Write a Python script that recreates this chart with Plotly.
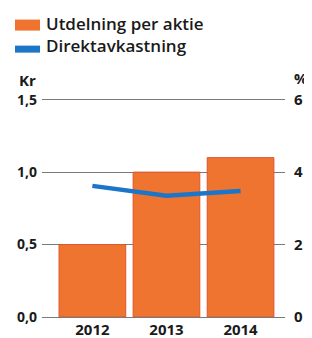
import plotly.graph_objects as go

years = ["2012", "2013", "2014"]
dividend_kr = [0.50, 1.00, 1.10]
yield_pct = [3.62, 3.35, 3.48]
left_ticks = [0, 0.5, 1.0, 1.5]
right_ticks = [0, 2, 4, 6]

ORANGE = "#EF7430"
BLUE = "#1C76C8"
FONT = "Open Sans"

fig = go.Figure()
fig.add_trace(go.Bar(
    x=years, y=dividend_kr, name="Utdelning per aktie",
    marker=dict(color=ORANGE, line=dict(color="#E2542A", width=1)),
    width=0.9, yaxis="y", showlegend=False,
))
fig.add_trace(go.Scatter(
    x=years, y=yield_pct, name="Direktavkastning", mode="lines",
    line=dict(color=BLUE, width=4.5), yaxis="y2", showlegend=False,
))

# page body has an 8px margin: shrink the figure and shift coordinates
OFF = 8
W, H = 312 - OFF, 338 - OFF
Y0_PX, Y15_PX = 317, 100          # reference pixel rows of 0 and 1.5
TOP = 1.56
k = (Y0_PX - Y15_PX) / 1.5
top_px = Y0_PX - TOP * k
L, R, T, B = 42 - OFF, 312 - 285, top_px - OFF, 338 - Y0_PX
pw, ph = W - L - R, H - T - B

def px(x):
    return (x - OFF - L) / pw

def py(y):
    return (H - B - (y - OFF)) / ph

fig.update_layout(
    width=W, height=H,
    margin=dict(l=L, r=R, t=T, b=B, pad=0, autoexpand=False),
    paper_bgcolor="white", plot_bgcolor="white",
    separators=", ",
    font=dict(family=FONT, color="#1a1a1a", size=14),
    xaxis=dict(
        type="category", range=[-0.68, 2.6], showgrid=False, zeroline=False,
        showline=False, ticks="", automargin=False, ticklabelstandoff=2,
        tickfont=dict(family=FONT, size=15, weight=700),
    ),
    yaxis=dict(
        range=[0, TOP], tickvals=left_ticks, tickformat=".1f",
        showgrid=True, gridcolor="#7a7a7a", gridwidth=1,
        zeroline=True, zerolinecolor="#7a7a7a", zerolinewidth=1,
        showline=False, ticks="", ticklabelstandoff=4, automargin=False,
        tickfont=dict(family=FONT, size=14, weight=700),
    ),
    yaxis2=dict(
        range=[0, TOP * 4], tickvals=right_ticks, overlaying="y", side="right",
        showgrid=False, zeroline=False, showline=False, ticks="",
        ticklabelstandoff=8, automargin=False,
        tickfont=dict(family=FONT, size=15, weight=700),
    ),
    shapes=[
        dict(type="rect", xref="paper", yref="paper",
             x0=px(15), x1=px(40), y0=py(31), y1=py(20),
             fillcolor=ORANGE, line=dict(width=0)),
        dict(type="rect", xref="paper", yref="paper",
             x0=px(15), x1=px(40), y0=py(53), y1=py(46),
             fillcolor=BLUE, line=dict(width=0)),
    ],
    annotations=[
        dict(text="Utdelning per aktie", xref="paper", yref="paper",
             x=px(44), y=py(24), xanchor="left", yanchor="middle",
             showarrow=False, font=dict(family=FONT, size=17, weight=600)),
        dict(text="Direktavkastning", xref="paper", yref="paper",
             x=px(44), y=py(46), xanchor="left", yanchor="middle",
             showarrow=False, font=dict(family=FONT, size=17, weight=600)),
        dict(text="Kr", xref="paper", yref="paper",
             x=px(17), y=py(80), xanchor="left", yanchor="middle",
             showarrow=False, font=dict(family=FONT, size=15, weight=700)),
        dict(text="%", xref="paper", yref="paper",
             x=px(310), y=py(78), xanchor="right", yanchor="middle",
             showarrow=False, font=dict(family=FONT, size=15, weight=700)),
    ],
)

fig.write_html("out.html")
